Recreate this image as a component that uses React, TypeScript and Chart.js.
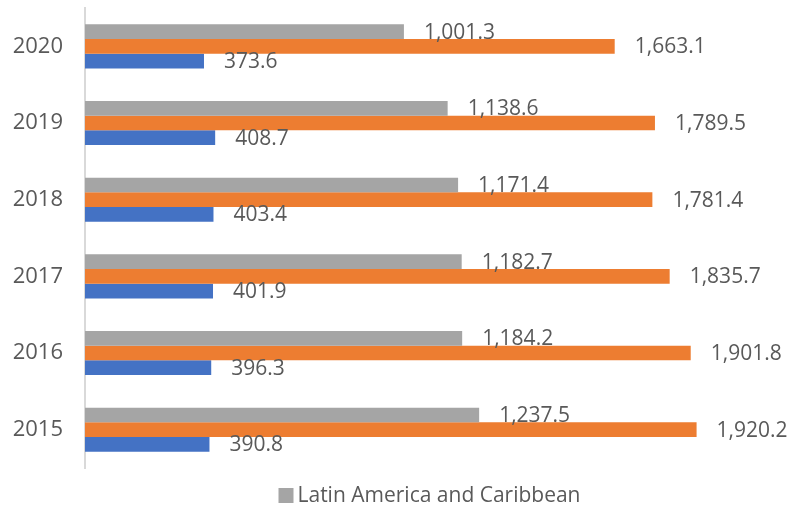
import React, { useEffect, useRef } from "react";
import { Chart, registerables } from "chart.js";

Chart.register(...registerables);

const categories = ["2020", "2019", "2018", "2017", "2016", "2015"];
const grayLabel = "Latin America and Caribbean";
const grayValues = [1001.3, 1138.6, 1171.4, 1182.7, 1184.2, 1237.5];
const orangeValues = [1663.1, 1789.5, 1781.4, 1835.7, 1901.8, 1920.2];
const blueValues = [373.6, 408.7, 403.4, 401.9, 396.3, 390.8];

const FONT = "'Open Sans', 'Noto Sans', sans-serif";
const TEXT = "#595959";
const GRAY = "#A5A5A5";

const fmt = (v: number) =>
  v.toLocaleString("en-US", { minimumFractionDigits: 1, maximumFractionDigits: 1 });

const valueLabels = {
  id: "valueLabels",
  afterDatasetsDraw(chart: any) {
    const ctx = chart.ctx;
    ctx.save();
    ctx.font = `21px ${FONT}`;
    ctx.fillStyle = TEXT;
    ctx.textAlign = "left";
    ctx.textBaseline = "middle";
    chart.data.datasets.forEach((ds: any, i: number) => {
      const meta = chart.getDatasetMeta(i);
      meta.data.forEach((bar: any, j: number) => {
        ctx.fillText(fmt(ds.data[j]), bar.x + 20, bar.y + 1);
      });
    });
    ctx.restore();
  },
};

const bottomLegend = {
  id: "bottomLegend",
  afterDraw(chart: any) {
    const ctx = chart.ctx;
    ctx.save();
    ctx.font = `21px ${FONT}`;
    const text = chart.data.datasets[0].label;
    const tw = ctx.measureText(text).width;
    const box = 15;
    const gap = 4;
    const total = box + gap + tw;
    const x0 = chart.width / 2 + 34 - total / 2;
    const cy = 495.5;
    ctx.fillStyle = chart.data.datasets[0].backgroundColor;
    ctx.fillRect(x0, cy - box / 2, box, box);
    ctx.fillStyle = TEXT;
    ctx.textAlign = "left";
    ctx.textBaseline = "middle";
    ctx.fillText(text, x0 + box + gap, cy + 1);
    ctx.restore();
  },
};

export default function App() {
  const ref = useRef<HTMLCanvasElement>(null);
  useEffect(() => {
    if (!ref.current) return;
    const chart = new Chart(ref.current, {
      type: "bar",
      data: {
        labels: categories,
        datasets: [
          { label: grayLabel, data: grayValues, backgroundColor: GRAY },
          { label: "Series 2", data: orangeValues, backgroundColor: "#ED7D31" },
          { label: "Series 3", data: blueValues, backgroundColor: "#4472C4" },
        ],
      },
      options: {
        indexAxis: "y",
        animation: false,
        responsive: false,
        maintainAspectRatio: false,
        datasets: { bar: { categoryPercentage: 0.575, barPercentage: 1 } },
        layout: { padding: { top: 8, right: 69, left: 0, bottom: 38 } },
        scales: {
          x: { display: false, min: 0, max: 2000 },
          y: {
            grid: { display: false, drawTicks: false },
            border: { display: true, color: "#D9D9D9", width: 2 },
            ticks: { color: TEXT, font: { family: FONT, size: 22 }, padding: 22 },
            afterFit(scale: any) {
              scale.width = 85;
              scale.paddingTop = 0;
              scale.paddingBottom = 0;
            },
          },
        },
        plugins: {
          tooltip: { enabled: false },
          legend: { display: false },
        },
      },
      plugins: [valueLabels, bottomLegend],
    });
    return () => chart.destroy();
  }, []);
  return (
    <div style={{ position: "fixed", left: 0, top: 0, width: 791, height: 506, background: "#fff" }}>
      <canvas ref={ref} width={791} height={506} />
    </div>
  );
}
